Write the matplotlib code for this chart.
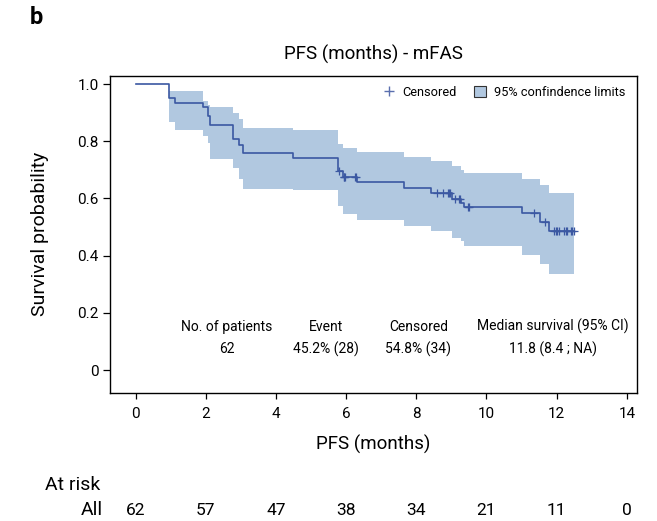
import numpy as np
import matplotlib
matplotlib.use("Agg")
import matplotlib.pyplot as plt
from matplotlib.lines import Line2D
from matplotlib.patches import Patch
from matplotlib.transforms import blended_transform_factory

plt.rcParams['font.family'] = ['Roboto', 'DejaVu Sans']

# Kaplan-Meier steps
step_times = [0, 0.96, 1.11, 1.92, 2.06, 2.12, 2.77, 2.96, 3.07, 4.48, 5.78, 5.90,
              6.31, 7.64, 8.41, 9.03, 9.27, 9.36, 11.00, 11.53, 11.78]
surv = [1.0, 0.952, 0.935, 0.919, 0.887, 0.857, 0.808, 0.787, 0.758, 0.740, 0.696, 0.675,
        0.657, 0.637, 0.620, 0.598, 0.585, 0.571, 0.549, 0.519, 0.486]
upper = [1.0, 0.976, 0.976, 0.941, 0.925, 0.918, 0.900, 0.877, 0.848, 0.840, 0.790, 0.778,
         0.763, 0.745, 0.731, 0.713, 0.700, 0.690, 0.669, 0.646, 0.620]
lower = [1.0, 0.866, 0.840, 0.819, 0.795, 0.737, 0.708, 0.667, 0.634, 0.630, 0.573, 0.547,
         0.526, 0.503, 0.485, 0.462, 0.450, 0.433, 0.404, 0.372, 0.337]
last_time = 12.5

# censored observations (months)
cens_times = [5.80, 5.93, 5.95, 5.97, 6.25, 6.28, 8.60, 8.75, 8.89, 8.94, 8.97, 9.10,
              9.22, 9.25, 9.46, 9.50, 11.35, 11.67, 11.92, 11.97, 12.02, 12.07, 12.21,
              12.26, 12.30, 12.40, 12.45, 12.50]

risk_times = [0, 2, 4, 6, 8, 10, 12, 14]
at_risk = [62, 57, 47, 38, 34, 21, 11, 0]

stat_heads = ["No. of patients", "Event", "Censored", "Median survival (95% CI)"]
stat_vals = ["62", "45.2% (28)", "54.8% (34)", "11.8 (8.4 ; NA)"]

line_col = '#3b58a2'
band_col = '#b1c8e0'

fig = plt.figure(figsize=(6.57, 5.21), dpi=100)
ax = fig.add_axes([0.1674, 0.2463, 0.8022, 0.6078])

t = np.array(step_times + [last_time])
s = np.array(surv + [surv[-1]])
up = np.array(upper + [upper[-1]])
lo = np.array(lower + [lower[-1]])

ax.fill_between(t, lo, up, step='post', color=band_col, linewidth=0)
ax.step(t, s, where='post', color=line_col, linewidth=1.2)

# censor marks sit on the curve
idx = np.searchsorted(step_times, cens_times, side='right') - 1
cens_s = np.array(surv)[idx]
ax.plot(cens_times, cens_s, linestyle='none', marker='+', markersize=5.5,
        markeredgewidth=0.9, color=line_col)

ax.set_xlim(-0.73, 14.29)
ax.set_ylim(-0.079, 1.028)
ax.set_xticks(risk_times)
ax.set_yticks([0, 0.2, 0.4, 0.6, 0.8, 1.0])
ax.set_yticklabels(['0', '0.2', '0.4', '0.6', '0.8', '1.0'])
ax.tick_params(axis='x', length=4, width=0.9, pad=6, labelsize=11)
ax.tick_params(axis='y', length=5, width=0.9, pad=3, labelsize=11)
for sp in ax.spines.values():
    sp.set_linewidth(1.0)

ax.set_title("PFS (months) - mFAS", fontsize=13.5, pad=12)
ax.set_xlabel("PFS (months)", fontsize=13.5)
ax.xaxis.set_label_coords(0.5, -0.132)
ax.set_ylabel("Survival probability", fontsize=14)
ax.yaxis.set_label_coords(-0.115, 0.5)

handles = [Line2D([], [], linestyle='none', marker='+', markersize=7, color='#5a6fae'),
           Patch(facecolor=band_col, edgecolor='#333333', linewidth=0.8)]
ax.legend(handles, ["Censored", "95% confindence limits"], loc='upper right',
          bbox_to_anchor=(1.0, 1.005), ncol=2, frameon=False, fontsize=9.2,
          handlelength=1.0, handleheight=0.9, handletextpad=0.6, columnspacing=1.3)

stat_x = [0.2214, 0.409, 0.585, 0.841]
for x, h, v in zip(stat_x, stat_heads, stat_vals):
    ax.text(x, 0.2084, h, transform=ax.transAxes, ha='center', va='center', fontsize=10)
    ax.text(x, 0.137, v, transform=ax.transAxes, ha='center', va='center', fontsize=10)

# at-risk table
tr = blended_transform_factory(ax.transData, fig.transFigure)
for x, n in zip(risk_times, at_risk):
    ax.text(x, 0.0211, str(n), transform=tr, ha='center', va='center', fontsize=12.5,
            clip_on=False)
fig.text(45 / 657, 0.0691, "At risk", ha='left', va='center', fontsize=14)
fig.text(103 / 657, 0.0211, "All", ha='right', va='center', fontsize=14)

fig.text(30 / 657, 1 - 17 / 521, "b", ha='left', va='center', fontsize=17,
         fontweight='bold')

fig.savefig("out.png", dpi=100)
